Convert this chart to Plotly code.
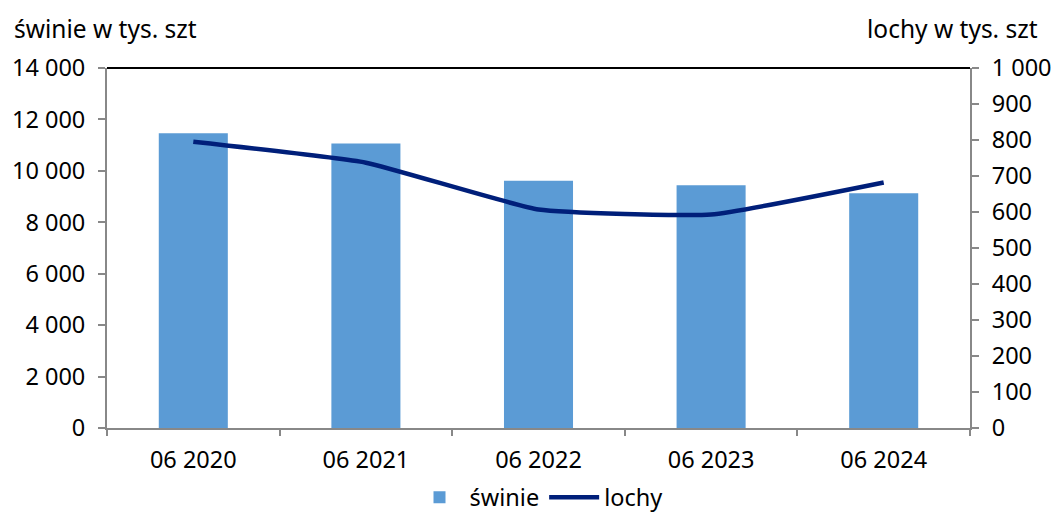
import plotly.graph_objects as go

categories = ["06 2020", "06 2021", "06 2022", "06 2023", "06 2024"]
swinie = [11465, 11060, 9617, 9437, 9125]
lochy = [795, 737, 607, 593, 682]

left_ticks = [0, 2000, 4000, 6000, 8000, 10000, 12000, 14000]
right_ticks = [0, 100, 200, 300, 400, 500, 600, 700, 800, 900, 1000]

FONT = "Noto Sans"
TS = 23.5
fig = go.Figure()
fig.add_trace(go.Bar(x=categories, y=swinie, name="świnie",
                     marker=dict(color="#5B9BD5", line=dict(width=0)),
                     yaxis="y"))
fig.add_trace(go.Scatter(x=categories, y=lochy, name="lochy", mode="lines",
                         line=dict(color="#001F7A", width=4.5, shape="spline", smoothing=0.4),
                         yaxis="y2"))

fig.update_layout(
    width=1056, height=512,
    margin=dict(l=107, r=86, t=68, b=84, autoexpand=False),
    paper_bgcolor="white", plot_bgcolor="white",
    font=dict(family=FONT, size=TS, color="#000000"),
    separators=", ",
    bargap=0.6,
    showlegend=True,
    legend=dict(orientation="h", x=0.5, xanchor="center", y=-0.132, yanchor="top",
                font=dict(size=TS), itemwidth=50, tracegroupgap=0),
    xaxis=dict(type="category", showline=True, linecolor="#888888", linewidth=2,
               ticks="outside", tickson="boundaries", ticklen=6, tickcolor="#888888",
               tickwidth=2, showgrid=False, tickfont=dict(size=TS), automargin=False,
               ticklabelstandoff=10),
    yaxis=dict(range=[0, 14000], tickvals=left_ticks, tickformat=",d",
               showline=True, linecolor="#888888", linewidth=2,
               ticks="outside", ticklen=7, tickcolor="#888888", tickwidth=2,
               showgrid=False, zeroline=False, tickfont=dict(size=TS), automargin=False,
               ticklabelstandoff=8),
    yaxis2=dict(range=[0, 1000], tickvals=right_ticks, tickformat=",d",
                overlaying="y", side="right",
                showline=True, linecolor="#888888", linewidth=2,
                ticks="outside", ticklen=7, tickcolor="#888888", tickwidth=2,
                showgrid=False, zeroline=False, tickfont=dict(size=TS), automargin=False,
                ticklabelstandoff=8),
    shapes=[dict(type="line", xref="paper", yref="paper", x0=0, x1=1, y0=1, y1=1,
                 line=dict(color="#000000", width=2))],
    annotations=[
        dict(text="świnie w tys. szt", xref="paper", yref="paper", x=-0.110, y=1.111,
             xanchor="left", yanchor="middle", showarrow=False,
             font=dict(size=24.5)),
        dict(text="lochy w tys. szt", x=1.081, xref="paper", yref="paper", y=1.111,
             xanchor="right", yanchor="middle", showarrow=False,
             font=dict(size=24.5)),
    ],
)

fig.write_html("out.html", config={"displayModeBar": False},
               post_script="document.body.style.margin='0';document.body.style.overflow='hidden';")
